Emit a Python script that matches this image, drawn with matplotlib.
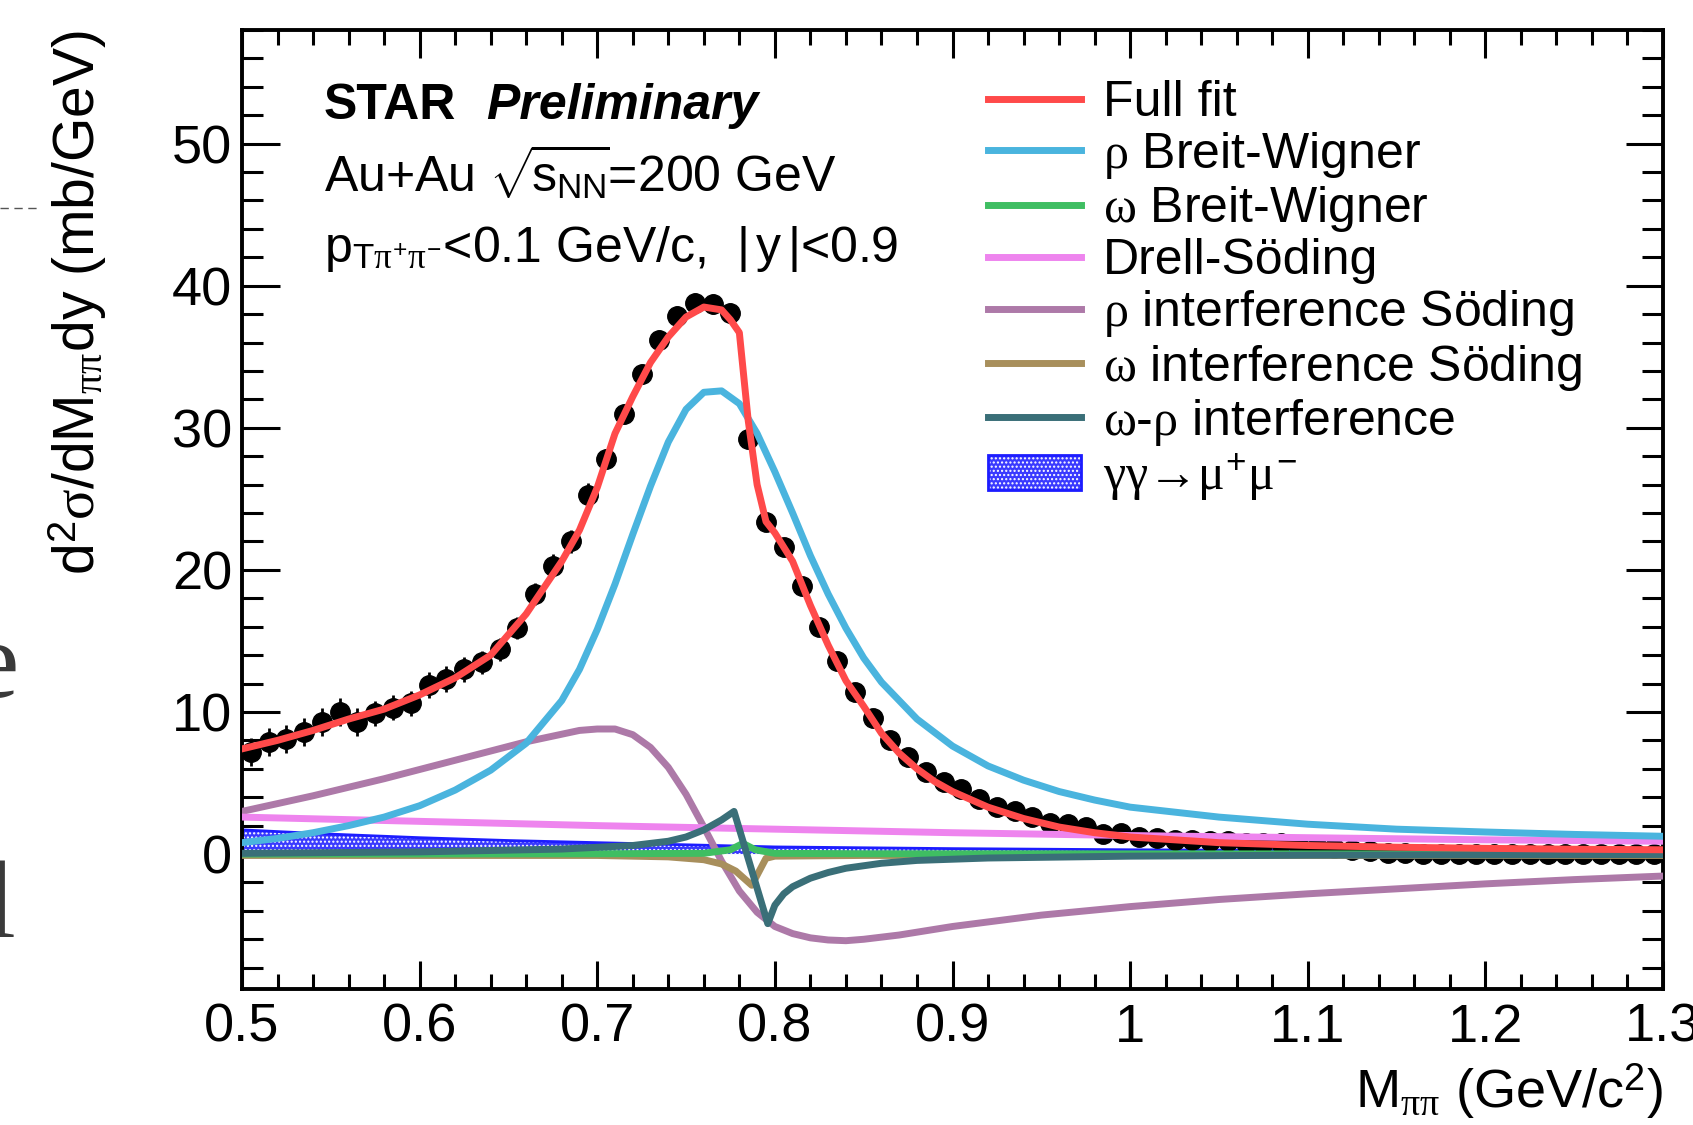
import numpy as np
import matplotlib.pyplot as plt
from matplotlib.lines import Line2D
from matplotlib.patches import Patch
from matplotlib.ticker import MultipleLocator, FuncFormatter

plt.rcParams['font.family'] = ['Liberation Sans', 'DejaVu Sans']
plt.rcParams['mathtext.fontset'] = 'custom'
plt.rcParams['mathtext.rm'] = 'Liberation Sans'
plt.rcParams['mathtext.sf'] = 'Liberation Sans'
plt.rcParams['mathtext.it'] = 'Liberation Serif'
plt.rcParams['mathtext.bf'] = 'Liberation Sans:bold'
plt.rcParams['hatch.linewidth'] = 1.0

# measured points (bin centres, 10 MeV bins)
data_x = [0.505, 0.515, 0.525, 0.535, 0.545, 0.555, 0.565, 0.575, 0.585, 0.595,
          0.605, 0.615, 0.625, 0.635, 0.645, 0.655, 0.665, 0.675, 0.685, 0.695,
          0.705, 0.715, 0.725, 0.735, 0.745, 0.755, 0.765, 0.775, 0.785, 0.795,
          0.805, 0.815, 0.825, 0.835, 0.845, 0.855, 0.865, 0.875, 0.885, 0.895,
          0.905, 0.915, 0.925, 0.935, 0.945, 0.955, 0.965, 0.975, 0.985, 0.995,
          1.005, 1.015, 1.025, 1.035, 1.045, 1.055, 1.065, 1.075, 1.085, 1.095,
          1.105, 1.115, 1.125, 1.135, 1.145, 1.155, 1.165, 1.175, 1.185, 1.195,
          1.205, 1.215, 1.225, 1.235, 1.245, 1.255, 1.265, 1.275, 1.285, 1.295]
data_y = [7.2, 7.9, 8.1, 8.6, 9.3, 10.0, 9.3, 9.9, 10.3, 10.6,
          11.9, 12.3, 13.0, 13.5, 14.4, 15.9, 18.3, 20.3, 22.0, 25.3,
          27.8, 31.0, 33.8, 36.2, 37.9, 38.8, 38.7, 38.1, 29.2, 23.4,
          21.6, 18.9, 16.0, 13.6, 11.4, 9.6, 8.0, 6.8, 5.8, 5.1,
          4.6, 3.9, 3.3, 3.0, 2.6, 2.2, 2.1, 1.9, 1.4, 1.5,
          1.2, 1.1, 1.0, 1.0, 0.9, 0.9, 0.8, 0.8, 0.8, 0.6,
          0.5, 0.4, 0.3, 0.2, 0.1, 0.05, 0.0, 0.0, 0.0, 0.0,
          0.0, 0.0, 0.0, 0.0, 0.0, 0.0, 0.0, 0.0, 0.0, 0.0]
data_err = [1.0, 1.0, 1.0, 1.0, 1.0, 1.0, 1.0, 0.9, 0.9, 0.9,
            0.9, 0.9, 0.9, 0.8, 0.8, 0.8, 0.8, 0.8, 0.8, 0.8,
            0.7, 0.7, 0.7, 0.7, 0.7, 0.7, 0.7, 0.7, 0.7, 0.6,
            0.6, 0.6, 0.5, 0.5, 0.5, 0.4, 0.4, 0.4, 0.4, 0.3,
            0.3, 0.3, 0.3, 0.3, 0.3, 0.3, 0.3, 0.3, 0.3, 0.3,
            0.3, 0.3, 0.3, 0.3, 0.3, 0.3, 0.3, 0.3, 0.3, 0.3,
            0.3, 0.3, 0.3, 0.3, 0.3, 0.3, 0.3, 0.3, 0.3, 0.3,
            0.3, 0.3, 0.3, 0.3, 0.3, 0.3, 0.3, 0.3, 0.3, 0.3]

# full fit
fit_x = [0.50, 0.52, 0.54, 0.56, 0.58, 0.60, 0.62, 0.64, 0.66, 0.68, 0.69, 0.70,
         0.71, 0.72, 0.73, 0.74, 0.75, 0.76, 0.77, 0.775, 0.78, 0.785, 0.79, 0.795,
         0.80, 0.81, 0.82, 0.83, 0.84, 0.85, 0.86, 0.87, 0.88, 0.89, 0.90, 0.92,
         0.94, 0.96, 0.98, 1.00, 1.05, 1.10, 1.15, 1.20, 1.25, 1.30]
fit_y = [7.4, 8.0, 8.7, 9.5, 10.2, 11.2, 12.4, 14.0, 16.9, 20.6, 22.8, 25.8,
         29.6, 32.2, 34.6, 36.4, 37.8, 38.5, 38.3, 37.6, 36.7, 30.5, 26.0, 23.4,
         22.6, 20.6, 17.5, 14.7, 12.2, 10.4, 8.5, 7.1, 6.0, 5.1, 4.4, 3.3,
         2.5, 1.9, 1.5, 1.2, 0.8, 0.6, 0.48, 0.4, 0.34, 0.3]

# rho Breit-Wigner
rho_x = [0.50, 0.52, 0.54, 0.56, 0.58, 0.60, 0.62, 0.64, 0.66, 0.68, 0.69, 0.70,
         0.71, 0.72, 0.73, 0.74, 0.75, 0.76, 0.77, 0.78, 0.79, 0.80, 0.81, 0.82,
         0.83, 0.84, 0.85, 0.86, 0.88, 0.90, 0.92, 0.94, 0.96, 0.98, 1.00, 1.05,
         1.10, 1.15, 1.20, 1.25, 1.30]
rho_y = [0.8, 1.1, 1.5, 2.0, 2.6, 3.4, 4.5, 5.9, 7.8, 10.8, 13.0, 15.8,
         19.0, 22.5, 25.9, 29.0, 31.3, 32.5, 32.6, 31.7, 29.6, 26.9, 24.0, 21.0,
         18.3, 15.9, 13.8, 12.1, 9.5, 7.6, 6.2, 5.2, 4.4, 3.8, 3.3, 2.6,
         2.1, 1.75, 1.55, 1.38, 1.25]

# omega Breit-Wigner
omg_x = [0.50, 0.70, 0.76, 0.775, 0.782, 0.789, 0.80, 0.85, 1.30]
omg_y = [0.0, 0.02, 0.05, 0.3, 0.75, 0.3, 0.05, 0.02, 0.0]

# Drell-Soding
ds_x = [0.50, 0.60, 0.70, 0.80, 0.90, 1.00, 1.10, 1.20, 1.30]
ds_y = [2.6, 2.3, 2.0, 1.75, 1.5, 1.3, 1.15, 1.0, 0.9]

# rho interference Soding
rint_x = [0.50, 0.54, 0.58, 0.62, 0.66, 0.69, 0.70, 0.71, 0.72, 0.73, 0.74, 0.75,
          0.76, 0.77, 0.78, 0.79, 0.80, 0.81, 0.82, 0.83, 0.84, 0.85, 0.87, 0.90,
          0.95, 1.00, 1.05, 1.10, 1.15, 1.20, 1.25, 1.30]
rint_y = [3.0, 4.1, 5.3, 6.6, 7.9, 8.7, 8.8, 8.8, 8.4, 7.5, 6.1, 4.2,
          1.9, -0.5, -2.6, -4.1, -5.1, -5.6, -5.9, -6.05, -6.1, -6.0, -5.7, -5.1,
          -4.3, -3.7, -3.2, -2.8, -2.45, -2.1, -1.8, -1.55]

# omega interference Soding
oint_x = [0.50, 0.70, 0.74, 0.76, 0.77, 0.778, 0.787, 0.795, 0.80, 0.85, 1.30]
oint_y = [-0.1, -0.1, -0.2, -0.4, -0.7, -1.2, -2.2, -0.3, -0.15, -0.1, -0.1]

# omega-rho interference
orint_x = [0.50, 0.60, 0.68, 0.72, 0.74, 0.75, 0.76, 0.77, 0.777, 0.796, 0.80,
           0.805, 0.81, 0.82, 0.83, 0.84, 0.86, 0.88, 0.92, 1.00, 1.10, 1.30]
orint_y = [0.05, 0.15, 0.35, 0.6, 0.9, 1.2, 1.7, 2.4, 3.0, -4.9, -3.6,
           -2.8, -2.3, -1.7, -1.3, -1.0, -0.65, -0.45, -0.28, -0.15, -0.08, -0.03]

# gamma gamma -> mu mu band (upper edge)
gg_x = [0.50, 0.55, 0.60, 0.65, 0.70, 0.75, 0.80, 0.90, 1.00, 1.10, 1.20, 1.30]
gg_y = [1.7, 1.4, 1.15, 0.95, 0.8, 0.65, 0.5, 0.38, 0.3, 0.25, 0.22, 0.2]

labels = ['Full fit', r'$\rho$ Breit-Wigner', r'$\omega$ Breit-Wigner', 'Drell-Söding',
          r'$\rho$ interference Söding', r'$\omega$ interference Söding',
          r'$\omega$-$\rho$ interference', r'$\gamma\gamma$→$\mu^{+}\mu^{\mathrm{-}}$']
colors = ['#ff4a4a', '#4ab4de', '#3fbe62', '#ee84ee', '#ad79a8', '#a88f5c', '#3a6f78']

W, H = 1693, 1125
fig = plt.figure(figsize=(W / 100, H / 100), dpi=100)
ax = fig.add_axes([242 / W, 1 - 989 / H, (1663 - 242) / W, (989 - 30) / H])

lw = 5
band_col = '#1c1cff'
band_fill = '#3a3aff'
ax.fill_between(gg_x, 0, gg_y, facecolor=band_fill, lw=0, zorder=2)
ax.fill_between(gg_x, 0, gg_y, facecolor='none', edgecolor='white', hatch='....', lw=0, zorder=2)
ax.plot(gg_x, gg_y, color=band_col, lw=2, zorder=2)
ax.errorbar(data_x, data_y, yerr=data_err, fmt='o', color='black', ms=14, elinewidth=2, capsize=0, zorder=3)
ax.plot(rint_x, rint_y, color=colors[4], lw=lw, zorder=4)
ax.plot(ds_x, ds_y, color=colors[3], lw=lw, zorder=4)
ax.plot(oint_x, oint_y, color=colors[5], lw=lw, zorder=4)
ax.plot(omg_x, omg_y, color=colors[2], lw=lw, zorder=4)
ax.plot(orint_x, orint_y, color=colors[6], lw=lw, zorder=5)
ax.plot(rho_x, rho_y, color=colors[1], lw=lw, zorder=5)
ax.plot(fit_x, fit_y, color=colors[0], lw=lw, zorder=6)

ax.set_xlim(0.5, 1.3)
ax.set_ylim(-9.5, 58)
ax.xaxis.set_major_locator(MultipleLocator(0.1))
ax.xaxis.set_minor_locator(MultipleLocator(0.02))
ax.yaxis.set_major_locator(MultipleLocator(10))
ax.yaxis.set_minor_locator(MultipleLocator(2))
ax.xaxis.set_major_formatter(FuncFormatter(lambda v, p: '%g' % round(v, 2)))
ax.tick_params(axis='both', which='both', direction='in', top=True, right=True, width=2.2, labelsize=39)
ax.tick_params(axis='y', which='major', length=27, pad=7)
ax.tick_params(axis='y', which='minor', length=15)
ax.tick_params(axis='x', which='major', length=20, pad=10)
ax.tick_params(axis='x', which='minor', length=11)
for s in ax.spines.values():
    s.set_linewidth(2.8)

fig.text(1663 / W, 1 - 1108 / H, r'M$_{\pi\pi}$ (GeV/c$^{2}$)', fontsize=39, ha='right', va='baseline')
fig.text(78 / W, 1 - 30 / H, r'd$^{2}\sigma$/dM$_{\pi\pi}$dy (mb/GeV)', fontsize=41,
         rotation=90, ha='center', va='top')

fig.text(324 / W, 1 - 119 / H, 'STAR', fontsize=36, weight='bold', va='baseline')
fig.text(486 / W, 1 - 119 / H, 'Preliminary', fontsize=36, weight='bold', style='italic', va='baseline')
fig.text(324 / W, 1 - 192 / H, r'Au+Au $\sqrt{\!\mathrm{s}_{\mathrm{NN}}\!}$=200 GeV', fontsize=36, va='baseline')
fig.text(324 / W, 1 - 262 / H, r'p$_{\mathrm{T}\pi^{+}\pi^{\mathrm{-}}}$<0.1 GeV/c,  $|\,$y$\,|$<0.9', fontsize=36, va='baseline')

handles = [Line2D([], [], color=c, lw=lw) for c in colors]
handles.append((Patch(facecolor=band_fill, lw=0),
                Patch(facecolor='none', edgecolor='white', hatch='....', lw=0),
                Patch(facecolor='none', edgecolor=band_col, lw=2)))
ax.legend(handles, labels, loc='upper left', bbox_to_anchor=(988 / W, 1 - 80 / H),
          bbox_transform=fig.transFigure, frameon=False, fontsize=36,
          handlelength=1.85, handletextpad=0.45, labelspacing=0.075,
          borderpad=0, borderaxespad=0, handleheight=0.7)

# bits of the surrounding slide
fig.add_artist(Line2D([0, 37 / W], [1 - 208 / H, 1 - 208 / H], transform=fig.transFigure,
                      color='#555555', lw=1, ls=(0, (6, 4))))
fig.text(19 / W, 1 - 697 / H, 'e', fontsize=80, family='Liberation Serif', color='#3a3a3a',
         ha='right', va='baseline')
fig.text(16 / W, 1 - 937 / H, 'l', fontsize=80, family='Liberation Serif', color='#3a3a3a',
         ha='right', va='baseline')

fig.savefig('out.png', dpi=100)
